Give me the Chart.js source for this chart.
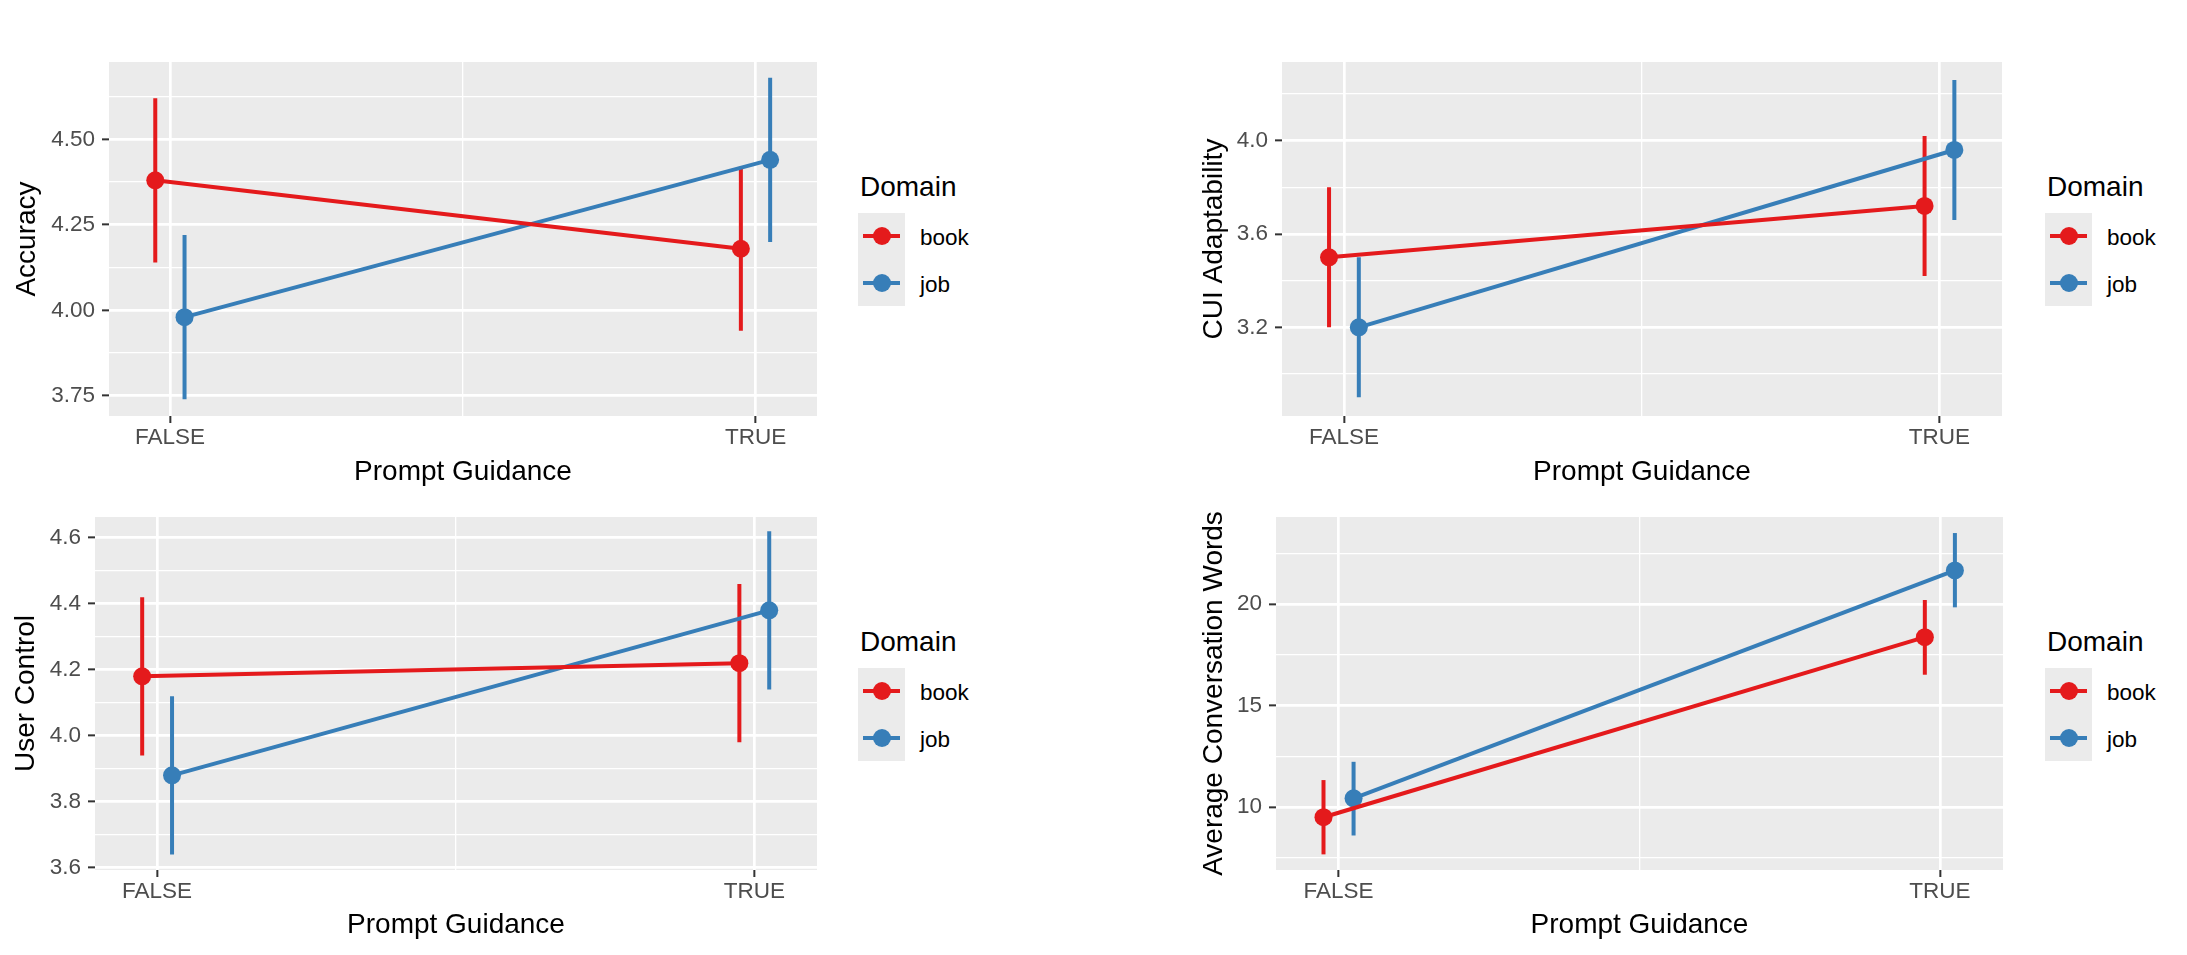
<!DOCTYPE html>
<html>
<head>
<meta charset="utf-8">
<script src="https://cdn.jsdelivr.net/npm/chart.js@4.4.1/dist/chart.umd.min.js"></script>
<style>
  body { margin: 0; width: 2187px; height: 955px; background: #fff; position: relative; overflow: hidden;
         font-family: "Liberation Sans", Arial, Helvetica, sans-serif; }
  canvas { position: absolute; }
  .legend { position: absolute; width: 140px; height: 160px; }
  .legend .ltitle { position: absolute; left: 2px; top: 13px; font-size: 28px; line-height: 28px; color: #000; }
  .legend .keys { position: absolute; left: 0; top: 53px; width: 47px; height: 93px; background: #EBEBEB; }
  .legend .row { position: absolute; left: 0; width: 47px; height: 46.5px; }
  .legend .kline { position: absolute; left: 5px; width: 37px; height: 4px; top: 21.25px; }
  .legend .kdot { position: absolute; left: 14.5px; top: 14.25px; width: 18px; height: 18px; border-radius: 50%; }
  .legend .lab { position: absolute; left: 62px; height: 46.5px; line-height: 46.5px; padding-top: 2px;
                 font-size: 22.5px; color: #000; white-space: nowrap; }
</style>
</head>
<body>
<canvas id="c1"></canvas>
<canvas id="c2"></canvas>
<canvas id="c3"></canvas>
<canvas id="c4"></canvas>

<script>
// categories on the x axis and the two domains
const categories = ['FALSE', 'TRUE'];
const domains = ['book', 'job'];
const domainColors = ['#E41A1C', '#377EB8'];
const dodge = [-0.025, 0.025];

// Accuracy
const accuracyBook = [4.38, 4.18];
const accuracyBookLow = [4.14, 3.94];
const accuracyBookHigh = [4.62, 4.42];
const accuracyJob = [3.98, 4.44];
const accuracyJobLow = [3.74, 4.20];
const accuracyJobHigh = [4.22, 4.68];
const accuracyTicks = [3.75, 4.00, 4.25, 4.50];
const accuracyTickLabels = ['3.75', '4.00', '4.25', '4.50'];

// CUI Adaptability
const adaptBook = [3.50, 3.72];
const adaptBookLow = [3.20, 3.42];
const adaptBookHigh = [3.80, 4.02];
const adaptJob = [3.20, 3.96];
const adaptJobLow = [2.90, 3.66];
const adaptJobHigh = [3.50, 4.26];
const adaptTicks = [3.2, 3.6, 4.0];
const adaptTickLabels = ['3.2', '3.6', '4.0'];

// User Control
const controlBook = [4.18, 4.22];
const controlBookLow = [3.94, 3.98];
const controlBookHigh = [4.42, 4.46];
const controlJob = [3.88, 4.38];
const controlJobLow = [3.64, 4.14];
const controlJobHigh = [4.12, 4.62];
const controlTicks = [3.6, 3.8, 4.0, 4.2, 4.4, 4.6];
const controlTickLabels = ['3.6', '3.8', '4.0', '4.2', '4.4', '4.6'];

// Average Conversation Words
const wordsBook = [9.50, 18.37];
const wordsBookLow = [7.67, 16.52];
const wordsBookHigh = [11.33, 20.20];
const wordsJob = [10.43, 21.66];
const wordsJobLow = [8.60, 19.84];
const wordsJobHigh = [12.23, 23.50];
const wordsTicks = [10, 15, 20];
const wordsTickLabels = ['10', '15', '20'];

Chart.defaults.font.family = '"Liberation Sans", Arial, Helvetica, sans-serif';

const FONT_TITLE = 28;
const FONT_TICK = 22.5;

// grey panel background
const panelBg = {
  id: 'panelBg',
  beforeDraw(chart) {
    const a = chart.chartArea;
    const ctx = chart.ctx;
    ctx.save();
    ctx.fillStyle = '#EBEBEB';
    ctx.fillRect(a.left, a.top, a.right - a.left, a.bottom - a.top);
    ctx.restore();
  }
};

// vertical error bars, drawn under lines and points
const errorBars = {
  id: 'errorBars',
  beforeDatasetsDraw(chart) {
    const ctx = chart.ctx;
    const x = chart.scales.x, y = chart.scales.y;
    chart.data.datasets.forEach(ds => {
      ctx.save();
      ctx.strokeStyle = ds.borderColor;
      ctx.lineWidth = 4;
      ds.data.forEach((p, i) => {
        const px = x.getPixelForValue(p.x);
        ctx.beginPath();
        ctx.moveTo(px, y.getPixelForValue(ds.low[i]));
        ctx.lineTo(px, y.getPixelForValue(ds.high[i]));
        ctx.stroke();
      });
      ctx.restore();
    });
  }
};

function isMajor(v, list) {
  return list.some(t => Math.abs(t - v) < 1e-9);
}

function makePanel(id, box, area, yTitleMid, xTitleMid, yTitle, yMin, yMax, ticks, tickLabels, series) {
  const canvas = document.getElementById(id);
  canvas.width = box.w;
  canvas.height = box.h;
  canvas.style.left = box.left + 'px';
  canvas.style.top = box.top + 'px';

  // minor lines halfway between majors
  const half = (ticks[1] - ticks[0]) / 2;
  const yGrid = [];
  ticks.forEach(t => { yGrid.push(t - half); yGrid.push(t); });
  yGrid.push(ticks[ticks.length - 1] + half);
  const yAll = yGrid.filter(v => v >= yMin && v <= yMax);

  const xGrid = [1, 1.5, 2];
  const xAxisH = box.top + box.h - area.bottom;

  const datasets = series.map((s, k) => ({
    label: domains[k],
    data: categories.map((c, i) => ({ x: i + 1 + dodge[k], y: s.mean[i] })),
    low: s.low,
    high: s.high,
    borderColor: domainColors[k],
    backgroundColor: domainColors[k],
    pointBackgroundColor: domainColors[k],
    borderWidth: 4,
    pointRadius: 9,
    pointBorderWidth: 0,
    pointHoverRadius: 9,
    tension: 0
  }));

  return new Chart(canvas.getContext('2d'), {
    type: 'line',
    data: { datasets },
    plugins: [panelBg, errorBars],
    options: {
      responsive: false,
      animation: false,
      devicePixelRatio: 1,
      layout: { padding: { left: 0, top: area.top - box.top, right: box.left + box.w - area.right, bottom: 0 } },
      plugins: { legend: { display: false }, tooltip: { enabled: false } },
      scales: {
        x: {
          type: 'linear',
          min: 0.896,
          max: 2.105,
          afterBuildTicks: s => { s.ticks = xGrid.map(v => ({ value: v })); },
          afterFit: s => { s.height = xAxisH; },
          border: { display: false },
          grid: {
            color: '#FFFFFF',
            lineWidth: c => (c.tick && c.tick.value !== 1.5) ? 2.7 : 1.3,
            tickLength: 7,
            tickWidth: 2,
            tickColor: c => (c.tick && c.tick.value !== 1.5) ? '#333333' : 'rgba(0,0,0,0)'
          },
          ticks: {
            autoSkip: false,
            maxRotation: 0,
            padding: 1,
            color: '#4D4D4D',
            font: { size: FONT_TICK },
            callback: v => v === 1 ? categories[0] : (v === 2 ? categories[1] : '')
          },
          title: {
            display: true,
            text: 'Prompt Guidance',
            color: '#000',
            font: { size: FONT_TITLE },
            padding: { top: 0, bottom: xTitleMid - FONT_TITLE * 0.6 }
          }
        },
        y: {
          min: yMin,
          max: yMax,
          afterBuildTicks: s => { s.ticks = yAll.map(v => ({ value: v })); },
          afterFit: s => { s.width = area.left - box.left; },
          border: { display: false },
          grid: {
            color: '#FFFFFF',
            lineWidth: c => (c.tick && isMajor(c.tick.value, ticks)) ? 2.7 : 1.3,
            tickLength: 7,
            tickWidth: 2,
            tickColor: c => (c.tick && isMajor(c.tick.value, ticks)) ? '#333333' : 'rgba(0,0,0,0)'
          },
          ticks: {
            autoSkip: false,
            padding: 7,
            color: '#4D4D4D',
            font: { size: FONT_TICK },
            callback: v => {
              const i = ticks.findIndex(t => Math.abs(t - v) < 1e-9);
              return i >= 0 ? tickLabels[i] : '';
            }
          },
          title: {
            display: true,
            text: yTitle,
            color: '#000',
            font: { size: FONT_TITLE },
            padding: { top: yTitleMid - box.left - FONT_TITLE * 0.6, bottom: 0 }
          }
        }
      }
    }
  });
}

function makeLegend(left, top) {
  const div = document.createElement('div');
  div.className = 'legend';
  div.style.left = left + 'px';
  div.style.top = top + 'px';
  let html = '<div class="ltitle">Domain</div><div class="keys">';
  domains.forEach((d, k) => {
    html += `<div class="row" style="top:${k * 46.5}px">
      <div class="kline" style="background:${domainColors[k]}"></div>
      <div class="kdot" style="background:${domainColors[k]}"></div></div>`;
  });
  html += '</div>';
  domains.forEach((d, k) => {
    html += `<div class="lab" style="top:${53 + k * 46.5}px">${d}</div>`;
  });
  div.innerHTML = html;
  document.body.appendChild(div);
}

makePanel('c1', { left: 0, top: 0, w: 840, h: 490 }, { left: 109, top: 62, right: 817, bottom: 416 },
  27, 18, 'Accuracy', 3.691, 4.726, accuracyTicks, accuracyTickLabels, [
    { mean: accuracyBook, low: accuracyBookLow, high: accuracyBookHigh },
    { mean: accuracyJob, low: accuracyJobLow, high: accuracyJobHigh }
  ]);

makePanel('c2', { left: 1150, top: 0, w: 870, h: 490 }, { left: 1282, top: 62, right: 2002, bottom: 416 },
  1214, 18, 'CUI Adaptability', 2.820, 4.337, adaptTicks, adaptTickLabels, [
    { mean: adaptBook, low: adaptBookLow, high: adaptBookHigh },
    { mean: adaptJob, low: adaptJobLow, high: adaptJobHigh }
  ]);

makePanel('c3', { left: 0, top: 490, w: 840, h: 465 }, { left: 95, top: 517, right: 817, bottom: 870 },
  26, 30, 'User Control', 3.593, 4.663, controlTicks, controlTickLabels, [
    { mean: controlBook, low: controlBookLow, high: controlBookHigh },
    { mean: controlJob, low: controlJobLow, high: controlJobHigh }
  ]);

makePanel('c4', { left: 1150, top: 490, w: 870, h: 465 }, { left: 1276, top: 517, right: 2003, bottom: 870 },
  1214, 30, 'Average Conversation Words', 6.90, 24.29, wordsTicks, wordsTickLabels, [
    { mean: wordsBook, low: wordsBookLow, high: wordsBookHigh },
    { mean: wordsJob, low: wordsJobLow, high: wordsJobHigh }
  ]);

makeLegend(858, 160);
makeLegend(2045, 160);
makeLegend(858, 615);
makeLegend(2045, 615);
</script>
</body>
</html>
